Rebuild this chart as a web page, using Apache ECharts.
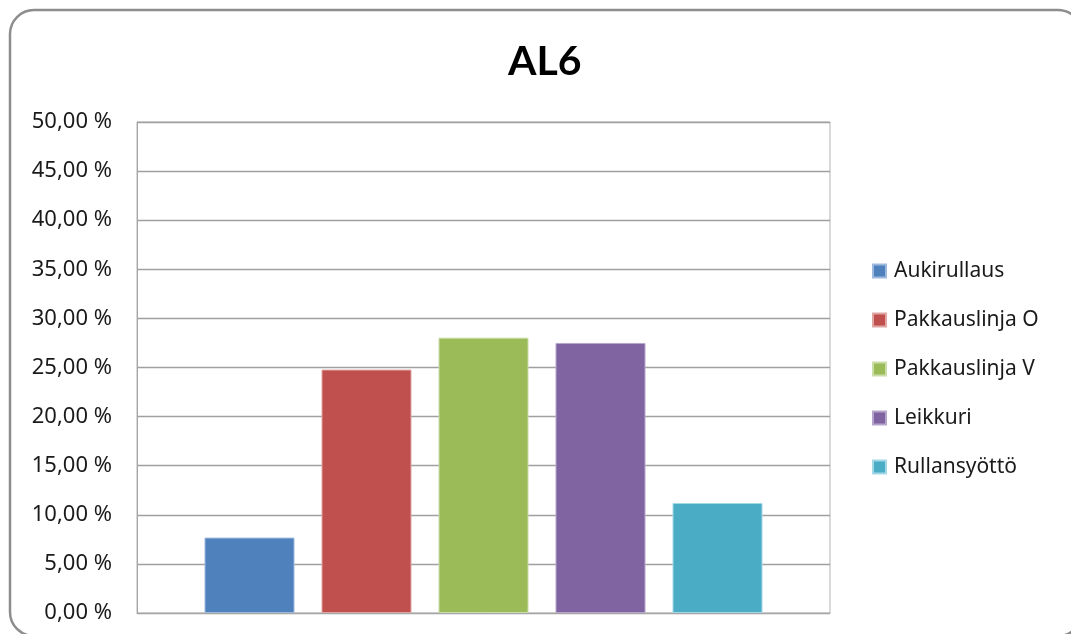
<!DOCTYPE html>
<html>
<head>
<meta charset="utf-8">
<title>AL6</title>
<script src="https://cdn.jsdelivr.net/npm/echarts@6/dist/echarts.min.js"></script>
<style>
  html, body { margin: 0; padding: 0; background: #ffffff; }
  #chart { width: 1071px; height: 634px; }
</style>
</head>
<body>
<div id="chart"></div>
<script>
// Share of stoppages per machine section, line AL6 (percent)
const categories = ['Aukirullaus', 'Pakkauslinja O', 'Pakkauslinja V', 'Leikkuri', 'Rullansyöttö'];
const values = [7.68, 24.79, 28.04, 27.50, 11.20];
const colors = ['#4F81BD', '#C0504D', '#9BBB59', '#8064A2', '#4BACC6'];
const edgeColors = ['#9DB9DD', '#E0A6A4', '#CBDDA9', '#B6A5CB', '#A3D8E6'];
const yTicks = [0, 5, 10, 15, 20, 25, 30, 35, 40, 45, 50];

const TEXT_FONT = '"Noto Sans", "Open Sans", sans-serif';
const TITLE_FONT = 'Lato, "Noto Sans", sans-serif';

const chart = echarts.init(document.getElementById('chart'), null, { renderer: 'canvas' });

const series = categories.map((name, i) => ({
  name: name,
  type: 'bar',
  data: [values[i]],
  barWidth: 90,
  barGap: '30%',
  itemStyle: { color: colors[i], borderColor: edgeColors[i], borderWidth: 1 }
}));

chart.setOption({
  backgroundColor: '#ffffff',
  animation: false,
  color: colors,
  title: {
    text: 'AL6',
    left: 503,
    top: 36,
    textStyle: { fontFamily: TITLE_FONT, fontSize: 41, fontWeight: 'bold', color: '#000000' }
  },
  legend: {
    orient: 'vertical',
    left: 867,
    top: 254,
    icon: 'rect',
    itemWidth: 13,
    itemHeight: 13,
    itemGap: 25,
    data: categories,
    textStyle: { fontFamily: TEXT_FONT, fontSize: 21, color: '#1a1a1a', lineHeight: 24, padding: [0, 0, 0, 3] }
  },
  grid: {
    left: 137,
    right: 241,
    top: 122,
    bottom: 21,
    show: true,
    borderColor: '#b3b3b3',
    borderWidth: 1,
    containLabel: false
  },
  xAxis: {
    type: 'category',
    data: [''],
    axisLine: { show: true, lineStyle: { color: '#a6a6a6' } },
    axisTick: { show: false },
    axisLabel: { show: false }
  },
  yAxis: {
    type: 'value',
    min: yTicks[0],
    max: yTicks[yTicks.length - 1],
    interval: 5,
    axisLine: { show: true, lineStyle: { color: '#a6a6a6' } },
    axisTick: { show: false },
    splitLine: { show: true, lineStyle: { color: '#a0a0a0', width: 1.3 } },
    axisLabel: {
      margin: 25,
      fontFamily: TEXT_FONT,
      fontSize: 22,
      color: '#1a1a1a',
      formatter: v => v.toFixed(2).replace('.', ',') + ' %'
    }
  },
  graphic: [{
    type: 'rect',
    silent: true,
    z: -10,
    shape: { x: 10, y: 10, width: 1072, height: 626, r: 24 },
    style: { fill: 'none', stroke: '#8d8d8d', lineWidth: 2.5 }
  }],
  series: series
});
</script>
</body>
</html>
